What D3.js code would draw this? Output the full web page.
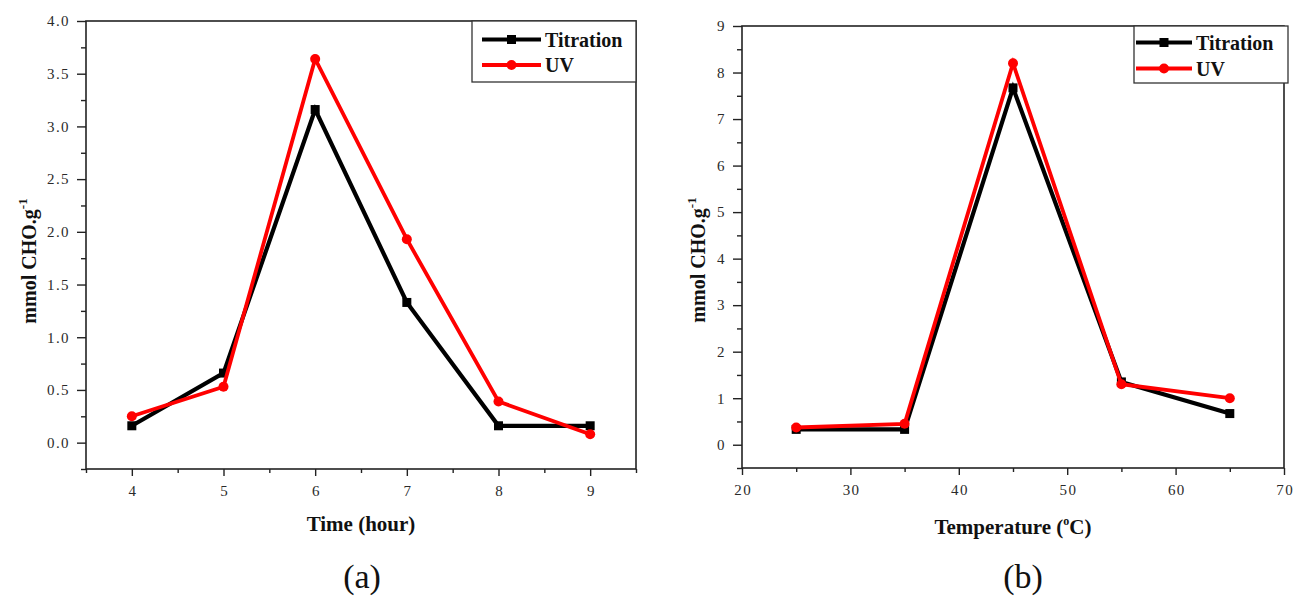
<!DOCTYPE html>
<html>
<head>
<meta charset="utf-8">
<script src="https://cdn.jsdelivr.net/npm/d3@7"></script>
<style>
  html, body { margin: 0; padding: 0; background: #fff; }
  svg { display: block; }
  text { font-family: "Liberation Serif", "Times New Roman", serif; }
</style>
</head>
<body>
<svg id="chart" width="1294" height="597"></svg>
<script>
// (a) carbonyl content vs. reaction time
const timeHours = [4, 5, 6, 7, 8, 9];
const timeTitration = [0.16, 0.66, 3.16, 1.33, 0.16, 0.16];
const timeUV = [0.25, 0.53, 3.64, 1.93, 0.39, 0.08];
const timeXTicks = [4, 5, 6, 7, 8, 9];
const timeYTicks = [0, 0.5, 1.0, 1.5, 2.0, 2.5, 3.0, 3.5, 4.0];

// (b) carbonyl content vs. reaction temperature
const tempC = [25, 35, 45, 55, 65];
const tempTitration = [0.33, 0.33, 7.67, 1.35, 0.67];
const tempUV = [0.37, 0.45, 8.2, 1.3, 1.0];
const tempXTicks = [20, 30, 40, 50, 60, 70];
const tempYTicks = [0, 1, 2, 3, 4, 5, 6, 7, 8, 9];

const seriesNames = ["Titration", "UV"];
const seriesColors = ["#000000", "#ff0000"];

const svg = d3.select("#chart");

function drawPanel(cfg) {
  const g = svg.append("g");
  const x = d3.scaleLinear().domain(cfg.xDomain).range([cfg.left, cfg.right]);
  const y = d3.scaleLinear().domain(cfg.yDomain).range([cfg.bottom, cfg.top]);

  // minor ticks
  g.append("g")
    .attr("transform", `translate(0,${cfg.bottom})`)
    .call(d3.axisBottom(x).tickValues(cfg.xMinor).tickSize(4).tickFormat(""))
    .call(a => a.select(".domain").remove());
  g.append("g")
    .attr("transform", `translate(${cfg.left},0)`)
    .call(d3.axisLeft(y).tickValues(cfg.yMinor).tickSize(5).tickFormat(""))
    .call(a => a.select(".domain").remove());

  // major ticks with labels
  const xAxis = g.append("g")
    .attr("transform", `translate(0,${cfg.bottom})`)
    .call(d3.axisBottom(x).tickValues(cfg.xTicks).tickSize(7).tickPadding(9).tickFormat(cfg.xFormat))
    .call(a => a.select(".domain").remove());
  const yAxis = g.append("g")
    .attr("transform", `translate(${cfg.left},0)`)
    .call(d3.axisLeft(y).tickValues(cfg.yTicks).tickSize(9).tickPadding(7).tickFormat(cfg.yFormat))
    .call(a => a.select(".domain").remove());

  g.selectAll(".tick line").attr("stroke", "#222").attr("stroke-width", 1.4);
  xAxis.selectAll("text")
    .attr("fill", "#2a2a2a")
    .attr("dx", "0.7px")
    .style("font-family", "'Liberation Serif', serif")
    .style("font-size", "15px")
    .style("letter-spacing", "1.4px");
  yAxis.selectAll("text")
    .attr("fill", "#2a2a2a")
    .style("font-family", "'Liberation Serif', serif")
    .style("font-size", "15px")
    .style("letter-spacing", "1.4px");

  // frame
  g.append("rect")
    .attr("x", cfg.left).attr("y", cfg.top)
    .attr("width", cfg.right - cfg.left).attr("height", cfg.bottom - cfg.top)
    .attr("fill", "none").attr("stroke", "#222").attr("stroke-width", 1.6);

  // series lines and markers
  const line = d3.line().x(d => x(d[0])).y(d => y(d[1]));
  cfg.series.forEach((vals, i) => {
    const pts = cfg.xs.map((v, k) => [v, vals[k]]);
    g.append("path").datum(pts)
      .attr("d", line)
      .attr("fill", "none")
      .attr("stroke", seriesColors[i])
      .attr("stroke-width", i === 0 ? 4.2 : 3.8)
      .attr("stroke-linejoin", "miter");
    drawMarkers(g, pts.map(p => [x(p[0]), y(p[1])]), i);
  });

  // legend
  const lg = g.append("g");
  lg.append("rect")
    .attr("x", cfg.legend.x0).attr("y", cfg.legend.y0)
    .attr("width", cfg.legend.x1 - cfg.legend.x0).attr("height", cfg.legend.y1 - cfg.legend.y0)
    .attr("fill", "#fff").attr("stroke", "#333").attr("stroke-width", 1.3);
  seriesNames.forEach((name, i) => {
    const ly = cfg.legend.rows[i];
    lg.append("line")
      .attr("x1", cfg.legend.lineX0).attr("x2", cfg.legend.lineX1)
      .attr("y1", ly).attr("y2", ly)
      .attr("stroke", seriesColors[i]).attr("stroke-width", 4.2);
    drawMarkers(lg, [[(cfg.legend.lineX0 + cfg.legend.lineX1) / 2, ly]], i);
    lg.append("text")
      .attr("x", cfg.legend.textX).attr("y", ly + 7)
      .attr("fill", "#111")
      .style("font-size", "20px").style("font-weight", "bold")
      .text(name);
  });

  // y-axis title
  const yt = g.append("text")
    .attr("transform", `translate(${cfg.yTitleX},${(cfg.top + cfg.bottom) / 2 + cfg.yTitleShift}) rotate(-90)`)
    .attr("text-anchor", "middle")
    .attr("fill", "#111")
    .style("font-size", "20px").style("font-weight", "bold");
  yt.append("tspan").text("mmol CHO.g");
  yt.append("tspan").attr("dy", -9).style("font-size", "13px").text("-1");

  // x-axis title
  const xt = g.append("text")
    .attr("x", cfg.xTitleX).attr("y", cfg.xTitleY)
    .attr("text-anchor", "middle")
    .attr("fill", "#111")
    .style("font-size", "21px").style("font-weight", "bold");
  cfg.xTitle.forEach(part => {
    const t = xt.append("tspan").text(part.text);
    if (part.sup) t.attr("dy", -9).style("font-size", "12px");
    if (part.after) t.attr("dy", 9);
  });

  // panel caption
  g.append("text")
    .attr("x", cfg.captionX).attr("y", 588)
    .attr("text-anchor", "middle")
    .attr("fill", "#111")
    .style("font-size", "34px")
    .text(cfg.caption);
}

function drawMarkers(g, pts, i) {
  if (i === 0) {
    g.selectAll(null).data(pts).enter().append("rect")
      .attr("x", d => d[0] - 4.5).attr("y", d => d[1] - 4.5)
      .attr("width", 9).attr("height", 9)
      .attr("fill", seriesColors[i]);
  } else {
    g.selectAll(null).data(pts).enter().append("circle")
      .attr("cx", d => d[0]).attr("cy", d => d[1]).attr("r", 5)
      .attr("fill", seriesColors[i]);
  }
}

drawPanel({
  left: 86, right: 636, top: 21, bottom: 469,
  xDomain: [3.5, 9.5], yDomain: [-0.25, 4.0],
  xTicks: timeXTicks, yTicks: timeYTicks,
  xMinor: d3.range(3.5, 9.51, 0.5).filter(v => !timeXTicks.includes(v)),
  yMinor: d3.range(-0.25, 4.0, 0.5),
  xFormat: d3.format("d"), yFormat: d3.format(".1f"),
  xs: timeHours, series: [timeTitration, timeUV],
  legend: { x0: 472, x1: 636, y0: 21, y1: 82, rows: [39.5, 65], lineX0: 482, lineX1: 541, textX: 545 },
  yTitleX: 36, yTitleShift: 16,
  xTitleX: 361, xTitleY: 531,
  xTitle: [{ text: "Time (hour)" }],
  captionX: 362, caption: "(a)"
});

drawPanel({
  left: 742, right: 1284, top: 26, bottom: 468,
  xDomain: [20, 70], yDomain: [-0.5, 9],
  xTicks: tempXTicks, yTicks: tempYTicks,
  xMinor: [25, 35, 45, 55, 65],
  yMinor: d3.range(-0.5, 9, 1),
  xFormat: d3.format("d"), yFormat: d3.format("d"),
  xs: tempC, series: [tempTitration, tempUV],
  legend: { x0: 1134, x1: 1288, y0: 26, y1: 83, rows: [42.5, 68.5], lineX0: 1136, lineX1: 1192, textX: 1196 },
  yTitleX: 705, yTitleShift: 13,
  xTitleX: 1013, xTitleY: 534,
  xTitle: [{ text: "Temperature (" }, { text: "o", sup: true }, { text: "C)", after: true }],
  captionX: 1023, caption: "(b)"
});
</script>
</body>
</html>
